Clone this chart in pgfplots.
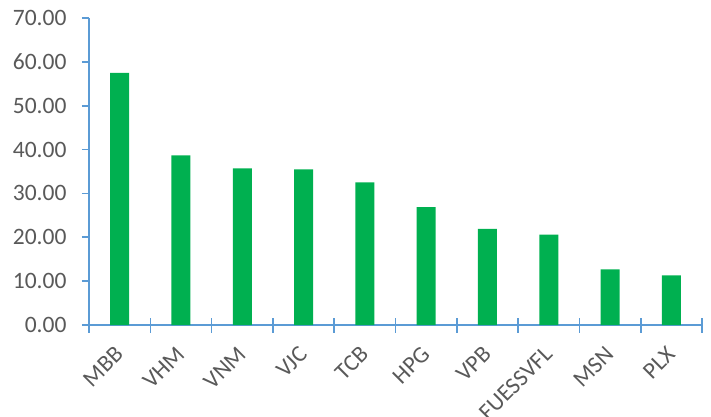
\documentclass[border=0pt]{standalone}
\usepackage{fontspec}
\setmainfont{Carlito}
\usepackage{pgfplots}
\pgfplotsset{compat=1.18}
\definecolor{axisblue}{HTML}{5B9BD5}
\definecolor{bargreen}{HTML}{00B050}
\definecolor{txtgray}{HTML}{595959}
\begin{document}
\begin{tikzpicture}
\useasboundingbox (-89pt,-91pt) rectangle (622pt,325pt);
\begin{axis}[
  scale only axis,
  width=613pt, height=307pt,
  xmin=-0.5, xmax=9.5,
  ymin=0, ymax=70,
  axis x line=bottom, axis y line=left,
  axis line style={draw=axisblue, line width=1.6pt, -},
  ytick={0,10,...,70},
  xtick={0,...,9},
  xticklabels={MBB,VHM,VNM,VJC,TCB,HPG,VPB,FUESSVFL,MSN,PLX},
  minor xtick={-0.5,0.5,...,9.5},
  tick align=outside,
  major tick length=7pt,
  minor tick length=15pt,
  every tick/.style={draw=axisblue, line width=1.6pt},
  every major x tick/.style={draw=none},
  every minor x tick/.style={draw=axisblue, line width=1.6pt, yshift=7.5pt},
  /pgf/number format/.cd, fixed, fixed zerofill, precision=2, assume math mode=true,
  /pgfplots/.cd,
  ticklabel style={font=\fontsize{23.5}{27}\selectfont, text=txtgray},
  xticklabel style={xshift=2pt, yshift=-16pt, rotate=45, anchor=east},
  yticklabel style={xshift=-12pt},
  ybar, bar width=19pt,
  clip=false,
]
\addplot[fill=bargreen, draw=none] coordinates {
  (0,57.5) (1,38.7) (2,35.7) (3,35.5) (4,32.5)
  (5,26.9) (6,21.9) (7,20.6) (8,12.7) (9,11.3)
};
\end{axis}
\end{tikzpicture}
\end{document}
